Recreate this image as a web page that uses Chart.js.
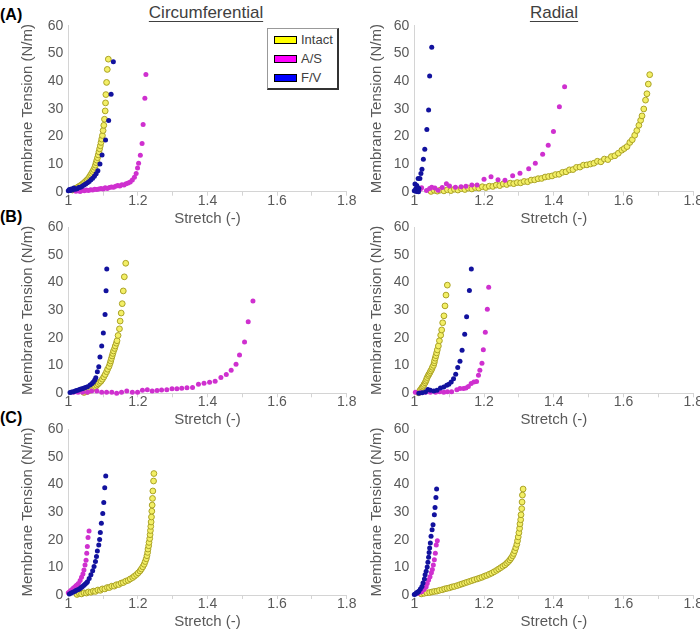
<!DOCTYPE html>
<html><head><meta charset="utf-8">
<script src="https://cdn.jsdelivr.net/npm/chart.js@4.4.1/dist/chart.umd.min.js"></script>
<style>
html,body{margin:0;padding:0;background:#fff;}
#wrap{position:relative;width:700px;height:637px;overflow:hidden;font-family:"Liberation Sans",Arial,sans-serif;}
canvas{position:absolute;}
.plabel{position:absolute;left:0;font-weight:bold;font-size:16px;line-height:18px;color:#000;}
.col{position:absolute;font-size:17px;line-height:20px;color:#404040;text-decoration:underline;text-underline-offset:3px;transform:translateX(-50%);white-space:nowrap;}
#legend{position:absolute;left:267px;top:28px;width:72px;height:62px;border-top:1px solid #999;border-left:1px solid #999;border-right:2px solid #333;border-bottom:2px solid #333;background:#fff;box-sizing:border-box;}
.li{position:absolute;left:6px;height:16px;line-height:16px;font-size:13px;color:#404040;white-space:nowrap;}
.sw{display:inline-block;width:21px;height:6px;border:1px solid #000;vertical-align:middle;margin-right:4px;position:relative;top:-1px;}
</style></head>
<body>
<div id="wrap">
  <div class="plabel" style="top:6px">(A)</div>
  <div class="plabel" style="top:208px">(B)</div>
  <div class="plabel" style="top:409px">(C)</div>
  <div class="col" style="left:206px;top:3px">Circumferential</div>
  <div class="col" style="left:554px;top:3px">Radial</div>
  <div id="legend"></div>
</div>
<script>
// ---------------- data ----------------
const seriesNames = ['Intact', 'A/S', 'F/V'];
const xTickLabels = [1, 1.2, 1.4, 1.6, 1.8];
const yTickLabels = [0, 10, 20, 30, 40, 50, 60];
const xTitle = 'Stretch (-)';
const yTitle = 'Membrane Tension (N/m)';

// Row A, circumferential
const circA_intact = [[1.012,0.6],[1.018,1.0],[1.023,1.3],[1.028,1.7],[1.033,2.1],[1.038,2.5],[1.042,2.9],[1.046,3.3],[1.050,3.8],[1.054,4.3],[1.058,4.8],[1.061,5.4],[1.064,6.0],[1.067,6.6],[1.070,7.3],[1.073,8.0],[1.076,8.8],[1.078,9.6],[1.080,10.5],[1.082,11.4],[1.084,12.3],[1.086,13.3],[1.088,14.4],[1.090,15.5],[1.092,16.6],[1.094,17.8],[1.096,19.0],[1.098,20.3],[1.100,22.1],[1.102,24.0],[1.104,26.2],[1.106,29.2],[1.107,32.1],[1.108,35.1],[1.110,39.5],[1.112,44.2],[1.115,47.9]];
const circA_AS = [[1.022,0.2],[1.028,0.4],[1.034,0.1],[1.040,0.5],[1.046,0.3],[1.052,0.6],[1.058,0.4],[1.064,0.7],[1.070,0.6],[1.076,0.9],[1.082,0.8],[1.088,1.0],[1.094,1.2],[1.100,1.0],[1.106,1.4],[1.112,1.2],[1.118,1.5],[1.124,1.7],[1.130,1.6],[1.136,2.0],[1.142,2.2],[1.148,2.1],[1.154,2.5],[1.160,2.4],[1.166,2.9],[1.172,3.1],[1.178,3.5],[1.184,4.2],[1.190,5.2],[1.195,6.6],[1.199,8.6],[1.202,10.3],[1.207,13.2],[1.212,17.4],[1.215,24.3],[1.220,33.8],[1.223,42.4]];
const circA_FV = [[1.000,0.3],[1.003,0.8],[1.006,0.4],[1.009,1.0],[1.012,0.6],[1.016,1.3],[1.020,0.9],[1.025,1.1],[1.030,1.5],[1.035,1.6],[1.040,2.0],[1.045,2.4],[1.050,2.8],[1.055,3.2],[1.060,3.7],[1.065,4.3],[1.070,4.9],[1.075,5.6],[1.080,6.5],[1.085,7.6],[1.091,10.0],[1.097,13.3],[1.107,18.7],[1.116,25.7],[1.123,35.2],[1.1295,47.0]];

// Row A, radial
const radA_intact = [[1.048,0.1],[1.057,0.5],[1.066,0.2],[1.075,0.6],[1.085,0.3],[1.095,0.7],[1.105,0.4],[1.115,0.9],[1.125,0.6],[1.135,1.1],[1.145,0.8],[1.155,1.3],[1.165,1.0],[1.175,1.5],[1.185,1.3],[1.195,1.8],[1.205,1.5],[1.215,2.0],[1.225,1.9],[1.235,2.4],[1.245,2.2],[1.255,2.8],[1.265,2.6],[1.275,3.1],[1.285,2.9],[1.295,3.3],[1.305,3.2],[1.315,3.7],[1.325,3.6],[1.335,4.2],[1.345,4.3],[1.355,4.7],[1.365,4.8],[1.375,5.3],[1.385,5.5],[1.395,5.7],[1.405,6.2],[1.415,6.3],[1.425,7.0],[1.435,7.2],[1.445,7.9],[1.455,8.0],[1.465,8.8],[1.475,8.9],[1.485,9.6],[1.495,9.7],[1.505,10.0],[1.515,10.3],[1.525,11.0],[1.535,10.8],[1.545,11.8],[1.555,11.6],[1.565,12.7],[1.575,13.0],[1.585,13.9],[1.595,15.0],[1.602,15.6],[1.610,16.3],[1.618,17.8],[1.625,18.8],[1.632,20.4],[1.638,22.1],[1.644,24.0],[1.649,25.8],[1.653,27.4],[1.658,29.9],[1.663,33.1],[1.667,35.4],[1.671,38.9],[1.675,42.3]];
const radA_AS = [[1.017,0.9],[1.021,1.4],[1.035,0.4],[1.044,1.2],[1.050,1.6],[1.059,1.3],[1.068,0.5],[1.080,1.5],[1.092,2.9],[1.101,2.1],[1.118,1.6],[1.134,1.8],[1.148,2.0],[1.165,2.4],[1.180,2.4],[1.200,4.5],[1.220,5.4],[1.240,4.3],[1.260,4.1],[1.282,5.8],[1.303,6.7],[1.328,8.3],[1.347,10.3],[1.368,13.5],[1.384,16.8],[1.399,21.8],[1.416,30.7],[1.431,37.9]];
const radA_FV = [[1.000,0.3],[1.002,2.8],[1.004,1.0],[1.006,0.1],[1.007,2.2],[1.009,1.6],[1.010,0.5],[1.012,0.0],[1.013,1.2],[1.011,4.8],[1.016,4.8],[1.019,6.6],[1.022,8.1],[1.026,11.7],[1.030,15.3],[1.036,22.5],[1.041,29.5],[1.044,41.8],[1.050,52.2]];

// Row B, circumferential
const circB_intact = [[1.045,0.3],[1.053,0.6],[1.060,1.0],[1.067,1.4],[1.073,1.9],[1.078,2.4],[1.082,2.9],[1.086,3.4],[1.090,3.9],[1.094,4.4],[1.098,5.1],[1.102,5.9],[1.106,6.8],[1.110,7.8],[1.113,8.7],[1.117,9.7],[1.120,10.8],[1.122,11.7],[1.124,12.6],[1.126,13.5],[1.128,14.4],[1.130,15.3],[1.133,16.2],[1.135,17.1],[1.138,18.1],[1.140,19.0],[1.143,20.9],[1.147,23.3],[1.149,26.1],[1.152,29.0],[1.155,32.4],[1.158,37.0],[1.161,42.1],[1.165,47.0]];
const circB_AS = [[1.015,0.4],[1.028,0.4],[1.041,0.4],[1.055,0.4],[1.067,0.8],[1.082,0.8],[1.096,0.4],[1.110,0.4],[1.125,0.4],[1.139,0.0],[1.153,0.4],[1.168,0.8],[1.184,0.4],[1.199,0.4],[1.213,1.1],[1.227,1.3],[1.241,0.8],[1.255,1.0],[1.268,1.2],[1.283,1.3],[1.298,1.6],[1.312,1.6],[1.326,1.8],[1.341,2.0],[1.357,2.1],[1.374,3.3],[1.390,3.6],[1.406,4.0],[1.422,4.4],[1.4385,5.7],[1.454,6.8],[1.468,8.3],[1.482,10.5],[1.492,13.8],[1.5065,18.5],[1.517,25.9],[1.5306,33.4]];
const circB_FV = [[1.005,0.3],[1.010,0.5],[1.015,0.6],[1.020,0.8],[1.024,1.0],[1.029,1.2],[1.034,1.5],[1.039,1.6],[1.044,1.8],[1.049,2.1],[1.055,2.4],[1.0625,3.0],[1.068,3.5],[1.072,4.1],[1.076,4.8],[1.079,5.6],[1.0835,7.8],[1.0875,9.6],[1.091,13.1],[1.096,17.1],[1.1007,21.8],[1.1056,28.5],[1.1085,37.1],[1.1105,44.9]];

// Row B, radial
const radB_intact = [[1.012,0.2],[1.014,0.5],[1.016,0.9],[1.018,1.3],[1.021,1.8],[1.023,2.2],[1.026,2.6],[1.028,3.2],[1.031,3.8],[1.033,4.4],[1.035,5.0],[1.037,5.7],[1.040,6.4],[1.042,6.9],[1.045,7.5],[1.047,8.1],[1.050,8.7],[1.052,9.4],[1.055,10.1],[1.057,11.0],[1.058,11.8],[1.060,12.7],[1.062,13.6],[1.064,14.6],[1.066,15.7],[1.069,17.1],[1.072,19.0],[1.0757,21.0],[1.0785,22.9],[1.0814,25.5],[1.085,28.0],[1.088,31.6],[1.0909,35.5],[1.0947,39.1]];
const radB_AS = [[1.003,0.4],[1.017,0.2],[1.032,0.4],[1.046,0.4],[1.061,0.4],[1.073,0.6],[1.0845,0.4],[1.095,0.6],[1.107,0.6],[1.122,1.3],[1.131,1.7],[1.141,1.7],[1.148,1.9],[1.155,2.5],[1.163,3.5],[1.171,4.1],[1.1785,4.3],[1.184,6.5],[1.188,8.3],[1.194,10.9],[1.1979,15.7],[1.2036,22.1],[1.2094,30.4],[1.2133,38.3]];
const radB_FV = [[1.013,0.0],[1.0225,0.2],[1.032,0.5],[1.039,1.4],[1.046,1.1],[1.056,0.8],[1.065,1.1],[1.075,1.9],[1.0845,2.3],[1.093,2.9],[1.099,3.3],[1.1058,4.1],[1.1125,5.3],[1.1187,6.9],[1.1245,9.3],[1.131,11.6],[1.137,15.6],[1.1445,21.3],[1.150,27.7],[1.158,37.2],[1.1635,44.9]];

// Row C, circumferential
const circC_intact = [[1.025,0.2],[1.032,0.5],[1.038,0.4],[1.045,0.8],[1.052,0.7],[1.058,1.1],[1.065,1.0],[1.072,1.4],[1.078,1.3],[1.085,1.8],[1.092,1.7],[1.098,2.2],[1.105,2.2],[1.112,2.7],[1.118,2.7],[1.125,3.2],[1.132,3.2],[1.138,3.7],[1.145,3.8],[1.152,4.3],[1.158,4.5],[1.165,5.0],[1.172,5.3],[1.178,5.8],[1.185,6.3],[1.190,6.8],[1.196,7.4],[1.201,8.0],[1.206,8.7],[1.210,9.4],[1.214,10.2],[1.218,11.1],[1.221,12.1],[1.224,13.1],[1.226,14.2],[1.228,15.4],[1.229,16.6],[1.231,17.8],[1.232,19.0],[1.234,20.4],[1.235,21.8],[1.236,23.3],[1.237,24.8],[1.238,26.4],[1.239,28.2],[1.240,30.3],[1.241,32.5],[1.242,34.9],[1.243,37.6],[1.245,41.2],[1.246,43.9]];
const circC_AS = [[1.000,0.8],[1.004,1.2],[1.007,1.6],[1.011,2.0],[1.014,2.4],[1.018,2.8],[1.022,3.3],[1.026,3.7],[1.029,4.2],[1.034,5.2],[1.038,6.4],[1.042,7.6],[1.045,9.0],[1.048,10.8],[1.051,12.6],[1.053,15.1],[1.0547,17.5],[1.0567,20.8],[1.0596,23.1]];
const circC_FV = [[1.003,0.4],[1.008,0.7],[1.013,1.0],[1.018,1.3],[1.022,1.6],[1.027,1.9],[1.032,2.2],[1.036,2.6],[1.040,3.0],[1.044,3.4],[1.048,3.9],[1.052,4.3],[1.055,4.8],[1.060,6.0],[1.065,7.3],[1.070,8.8],[1.074,10.3],[1.078,12.1],[1.081,13.9],[1.0835,15.9],[1.0875,18.1],[1.090,20.1],[1.092,22.6],[1.095,25.9],[1.099,29.5],[1.1019,33.4],[1.1047,38.8],[1.1076,43.0]];

// Row C, radial
const radC_intact = [[1.020,0.4],[1.028,0.6],[1.036,0.8],[1.044,0.9],[1.051,1.1],[1.058,1.3],[1.065,1.4],[1.072,1.7],[1.080,1.9],[1.087,2.2],[1.094,2.4],[1.101,2.6],[1.108,2.9],[1.115,3.1],[1.123,3.4],[1.130,3.7],[1.137,4.0],[1.144,4.3],[1.151,4.6],[1.158,4.9],[1.165,5.2],[1.172,5.5],[1.180,5.8],[1.187,6.1],[1.194,6.4],[1.201,6.8],[1.208,7.1],[1.215,7.5],[1.222,7.9],[1.229,8.4],[1.236,8.9],[1.242,9.4],[1.248,9.9],[1.254,10.4],[1.260,10.9],[1.265,11.5],[1.270,12.1],[1.274,12.7],[1.278,13.4],[1.282,14.2],[1.285,15.0],[1.288,16.0],[1.291,17.1],[1.294,18.3],[1.296,19.6],[1.298,21.0],[1.300,22.5],[1.302,24.1],[1.303,25.7],[1.305,27.2],[1.306,29.0],[1.308,31.2],[1.309,33.6],[1.310,36.1],[1.312,38.3]];
const radC_AS = [[1.0115,0.6],[1.021,1.2],[1.028,2.0],[1.034,3.0],[1.037,4.2],[1.041,5.4],[1.045,6.6],[1.049,8.0],[1.0517,9.2],[1.0546,10.8],[1.0575,12.7],[1.0603,15.1],[1.063,18.1],[1.066,19.6]];
const radC_FV = [[1.000,0.2],[1.003,0.4],[1.006,0.7],[1.008,0.9],[1.011,1.1],[1.013,1.4],[1.0175,2.2],[1.022,3.1],[1.025,4.3],[1.029,5.8],[1.031,7.3],[1.034,8.6],[1.037,10.1],[1.039,11.8],[1.041,13.6],[1.0425,15.4],[1.044,17.0],[1.046,18.8],[1.048,21.2],[1.051,23.6],[1.0537,25.4],[1.0575,29.0],[1.0594,31.6],[1.062,35.2],[1.064,38.3]];

// ---------------- styling / layout ----------------
const FONT = '"Liberation Sans", Arial, sans-serif';
const TEXT = '#595959';
const AXIS = '#d4d4d4';
const styles = [
  {bg:'#f3ef66', border:'#aaa226', bw:1, r:2.9, order:3},
  {bg:'#cf30cf', border:'#cf30cf', bw:0, r:2.5, order:2},
  {bg:'#12129e', border:'#12129e', bw:0, r:2.5, order:1}
];
const swatch = ['#ffff00', '#ff00ff', '#0000ff'];

const wrap = document.getElementById('wrap');

// legend
const leg = document.getElementById('legend');
seriesNames.forEach((n, i) => {
  const d = document.createElement('div');
  d.className = 'li';
  d.style.top = (3 + i * 19) + 'px';
  d.innerHTML = '<span class="sw" style="background:' + swatch[i] + '"></span>';
  d.appendChild(document.createTextNode(n));
  leg.appendChild(d);
});

const colX = [{x:0, w:362, l:68.3, r:346.7, tp:19.3}, {x:350, w:350, l:414.3, r:693.3, tp:17.5}];
const rowY = [{y:0, t:25.7, b:191.7}, {y:200, t:227.3, b:393.3}, {y:400, t:429, b:595}];
const panels = [
  [circA_intact, circA_AS, circA_FV], [radA_intact, radA_AS, radA_FV],
  [circB_intact, circB_AS, circB_FV], [radB_intact, radB_AS, radB_FV],
  [circC_intact, circC_AS, circC_FV], [radC_intact, radC_AS, radC_FV]
];

panels.forEach((series, idx) => {
  const col = colX[idx % 2], row = rowY[Math.floor(idx / 2)];
  const h = Math.ceil(row.b + 36 - row.y);
  const c = document.createElement('canvas');
  c.width = col.w; c.height = h;
  c.style.left = col.x + 'px'; c.style.top = row.y + 'px';
  c.style.width = col.w + 'px'; c.style.height = h + 'px';
  wrap.appendChild(c);
  const WY = col.l - col.x;
  const HX = row.y + h - row.b;
  new Chart(c, {
    type: 'scatter',
    data: {
      datasets: series.map((arr, i) => ({
        label: seriesNames[i],
        data: arr.map(p => ({x: p[0], y: p[1]})),
        backgroundColor: styles[i].bg,
        borderColor: styles[i].border,
        borderWidth: styles[i].bw,
        pointRadius: styles[i].r,
        pointHoverRadius: styles[i].r,
        order: styles[i].order,
        clip: false
      }))
    },
    options: {
      responsive: false, animation: false, devicePixelRatio: 1,
      events: [],
      layout: {padding: {top: row.t - row.y, right: col.x + col.w - col.r, left: 0, bottom: 0}},
      plugins: {legend: {display: false}, tooltip: {enabled: false}},
      scales: {
        x: {
          type: 'linear', position: 'bottom',
          min: xTickLabels[0], max: xTickLabels[xTickLabels.length - 1],
          afterFit(s) { s.height = HX; s.paddingLeft = 0; s.paddingRight = 0; },
          border: {display: true, color: AXIS, width: 1},
          grid: {display: true, drawOnChartArea: false, drawTicks: true, tickLength: 4, color: AXIS},
          ticks: {
            stepSize: 0.1, autoSkip: false, maxRotation: 0, padding: -2,
            color: TEXT, font: {family: FONT, size: 14, lineHeight: 1},
            callback: (v) => {
              const k = Math.round(v * 10) / 10;
              return xTickLabels.some(t => Math.abs(t - k) < 1e-6) ? String(k) : '';
            }
          },
          title: {display: true, text: xTitle, color: TEXT, font: {family: FONT, size: 15, lineHeight: 1.2}, padding: {top: 0, bottom: HX - 36}}
        },
        y: {
          type: 'linear', position: 'left',
          min: yTickLabels[0], max: yTickLabels[yTickLabels.length - 1],
          afterFit(s) { s.width = WY; s.paddingTop = 0; s.paddingBottom = 0; },
          border: {display: true, color: AXIS, width: 1},
          grid: {display: false, drawTicks: false},
          ticks: {stepSize: yTickLabels[1] - yTickLabels[0], padding: 5, color: TEXT, font: {family: FONT, size: 14}},
          title: {display: true, text: yTitle, color: TEXT, font: {family: FONT, size: 15, lineHeight: 1.2}, padding: {top: col.tp, bottom: 0}}
        }
      }
    }
  });
});
</script>
</body></html>
